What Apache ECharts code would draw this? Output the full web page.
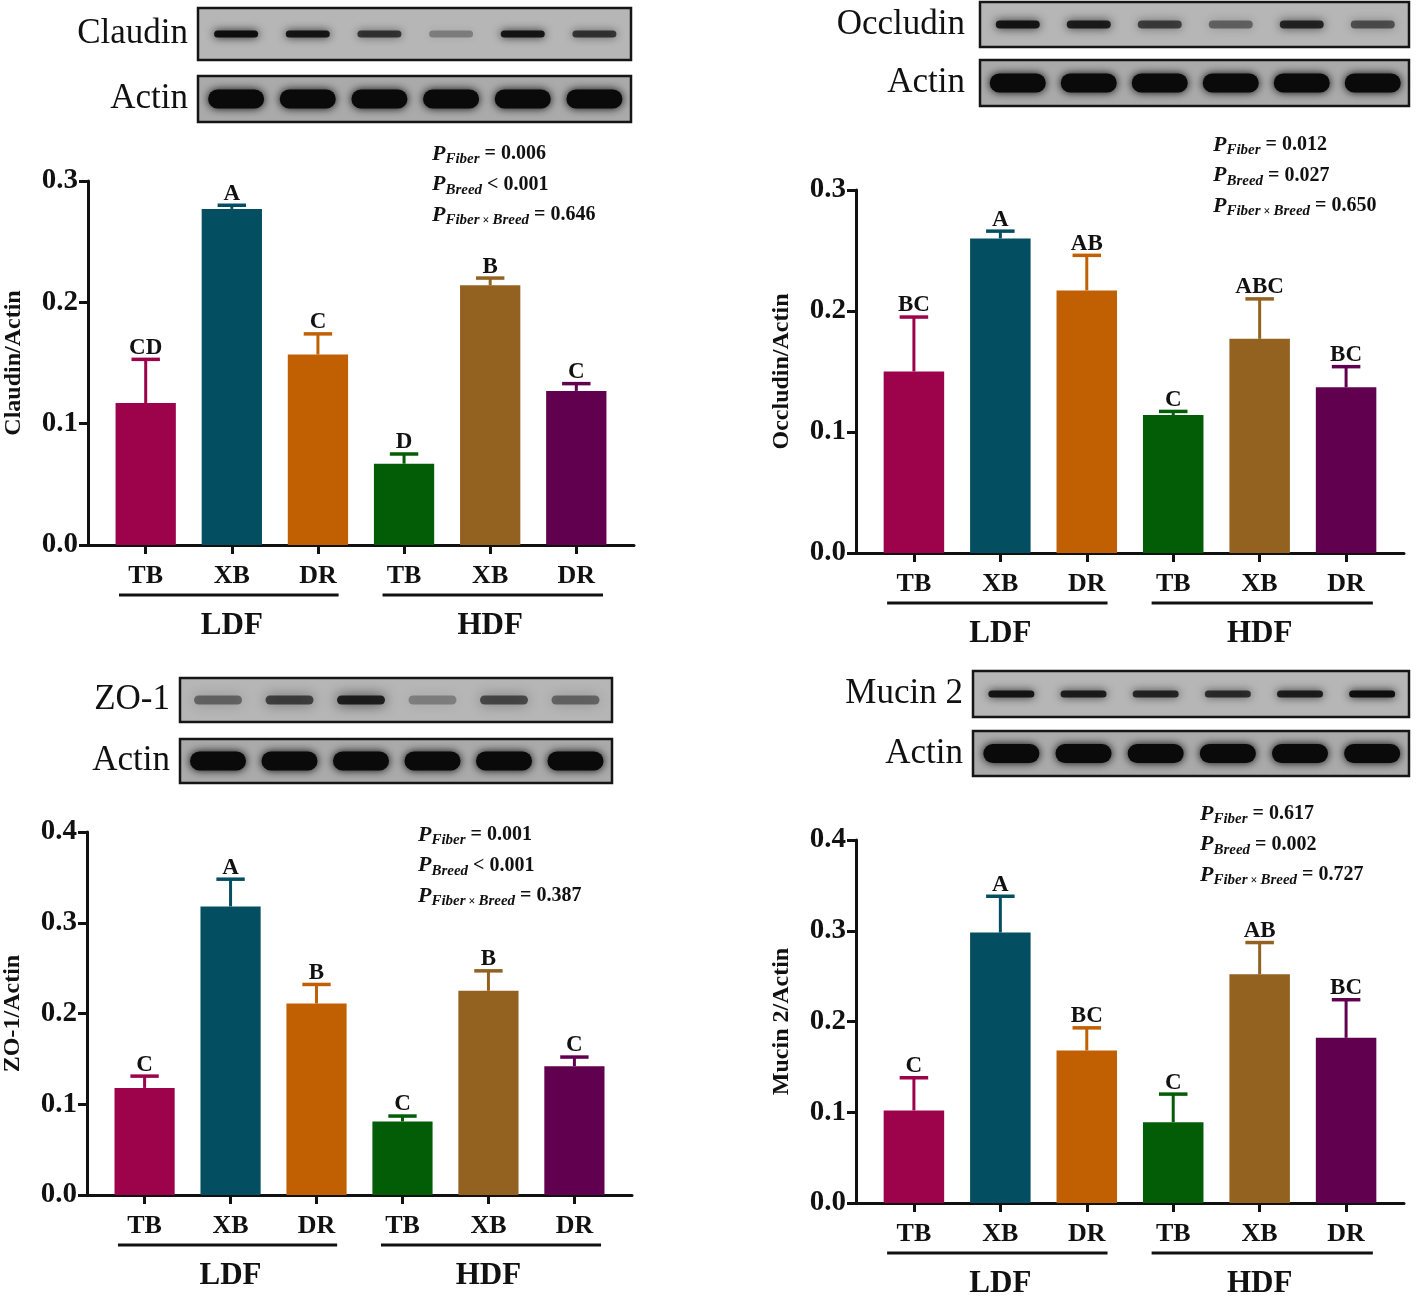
<!DOCTYPE html>
<html>
<head>
<meta charset="utf-8">
<script src="https://cdn.jsdelivr.net/npm/echarts@6/dist/echarts.min.js"></script>
<style>
    html, body { margin: 0; padding: 0; background: #fff; }
    #figure { width: 1417px; height: 1298px; }
</style>
</head>
<body>
<div id="figure"></div>
<script>
const SERIF = '"Liberation Serif", "Times New Roman", serif';

// Shared categories
const categories = ['TB', 'XB', 'DR', 'TB', 'XB', 'DR'];
const groupNames = ['LDF', 'HDF'];
const barColors = ['#9c034a', '#034e61', '#c06003', '#035c06', '#936221', '#61004f'];

// Claudin
const claudinMean = [0.117, 0.277, 0.157, 0.067, 0.214, 0.127];
const claudinSem = [0.036, 0.003, 0.017, 0.008, 0.006, 0.006];
const claudinLetters = ['CD', 'A', 'C', 'D', 'B', 'C'];
const claudinP = ['= 0.006', '< 0.001', '= 0.646'];
const claudinBands = [0.95, 0.9, 0.7, 0.3, 0.9, 0.7];

// Occludin
const occludinMean = [0.150, 0.260, 0.217, 0.114, 0.177, 0.137];
const occludinSem = [0.045, 0.006, 0.029, 0.003, 0.033, 0.017];
const occludinLetters = ['BC', 'A', 'AB', 'C', 'ABC', 'BC'];
const occludinP = ['= 0.012', '= 0.027', '= 0.650'];
const occludinBands = [0.9, 0.85, 0.65, 0.45, 0.8, 0.55];

// ZO-1
const zo1Mean = [0.118, 0.318, 0.211, 0.081, 0.225, 0.142];
const zo1Sem = [0.013, 0.030, 0.021, 0.006, 0.022, 0.010];
const zo1Letters = ['C', 'A', 'B', 'C', 'B', 'C'];
const zo1P = ['= 0.001', '< 0.001', '= 0.387'];
const zo1Bands = [0.45, 0.65, 0.85, 0.3, 0.6, 0.45];

// Mucin 2
const mucinMean = [0.102, 0.298, 0.168, 0.089, 0.252, 0.182];
const mucinSem = [0.036, 0.040, 0.025, 0.031, 0.035, 0.042];
const mucinLetters = ['C', 'A', 'BC', 'C', 'AB', 'BC'];
const mucinP = ['= 0.617', '= 0.002', '= 0.727'];
const mucinBands = [0.9, 0.85, 0.8, 0.75, 0.85, 0.95];

// Actin loading control
const actinBands = [1, 1, 1, 1, 1, 1];

// Panel layout
const panels = [
    {
        label: 'Claudin', yName: 'Claudin/Actin', yMax: 0.3,
        mean: claudinMean, sem: claudinSem, letters: claudinLetters, p: claudinP, bands: claudinBands,
        grid: { left: 88, top: 181, width: 546, height: 364 },
        blot: { x: 198, y: 8, w: 433, h: 52 }, actinBox: { x: 198, y: 76, w: 433, h: 46 },
        labelRight: 188, band: { w: 44, h: 7, blur: 9 }, pText: { x: 432, y: 155 }
    },
    {
        label: 'Occludin', yName: 'Occludin/Actin', yMax: 0.3,
        mean: occludinMean, sem: occludinSem, letters: occludinLetters, p: occludinP, bands: occludinBands,
        grid: { left: 856, top: 190, width: 548, height: 363 },
        blot: { x: 980, y: 2, w: 429, h: 45 }, actinBox: { x: 980, y: 60, w: 429, h: 46 },
        labelRight: 965, band: { w: 44, h: 8, blur: 10 }, pText: { x: 1213, y: 146 }
    },
    {
        label: 'ZO-1', yName: 'ZO-1/Actin', yMax: 0.4,
        mean: zo1Mean, sem: zo1Sem, letters: zo1Letters, p: zo1P, bands: zo1Bands,
        grid: { left: 85, top: 832, width: 547, height: 363 },
        blot: { x: 180, y: 678, w: 432, h: 44 }, actinBox: { x: 180, y: 739, w: 432, h: 44 },
        labelRight: 170, band: { w: 48, h: 9, blur: 13 }, pText: { x: 418, y: 836 }
    },
    {
        label: 'Mucin 2', yName: 'Mucin 2/Actin', yMax: 0.4,
        mean: mucinMean, sem: mucinSem, letters: mucinLetters, p: mucinP, bands: mucinBands,
        grid: { left: 856, top: 840, width: 548, height: 363 },
        blot: { x: 973, y: 671, w: 436, h: 46 }, actinBox: { x: 973, y: 731, w: 436, h: 45 },
        labelRight: 963, band: { w: 46, h: 7, blur: 9 }, pText: { x: 1200, y: 815 }
    }
];

const xPositions = categories.map((c, i) => i);
const groupSpans = [[-0.31, 2.24], [2.75, 5.31]];
const groupCenters = [1, 4];

const chart = echarts.init(document.getElementById('figure'), null, { renderer: 'canvas' });

/**
 * Bars with upper error bar and significance letter
 */
function makeRenderItem(panel) {
    return function (params, api) {
        const x = api.value(0);
        const mean = api.value(1);
        const sem = api.value(2);
        const base = api.coord([x, 0]);
        const top = api.coord([x, mean]);
        const errTop = api.coord([x, mean + sem]);
        const barW = api.size([0.7, 0])[0];
        const capW = api.size([0.33, 0])[0];
        const color = barColors[params.dataIndex];

        return {
            type: 'group',
            children: [
                {
                    type: 'line',
                    shape: { x1: top[0], y1: top[1], x2: errTop[0], y2: errTop[1] },
                    style: { stroke: color, lineWidth: 3 }
                },
                {
                    type: 'line',
                    shape: { x1: errTop[0] - capW / 2, y1: errTop[1], x2: errTop[0] + capW / 2, y2: errTop[1] },
                    style: { stroke: color, lineWidth: 3.5 }
                },
                {
                    type: 'rect',
                    shape: { x: base[0] - barW / 2, y: top[1], width: barW, height: base[1] - top[1] },
                    style: { fill: color }
                },
                {
                    type: 'text',
                    style: {
                        text: panel.letters[params.dataIndex],
                        x: errTop[0], y: errTop[1],
                        align: 'center', verticalAlign: 'bottom',
                        font: `bold 23px ${SERIF}`, fill: '#111'
                    }
                }
            ]
        };
    };
}

/**
 * Western blot strip drawn as graphic elements
 */
function blotElements(box, bands, bandW, bandH, blur, label, labelRight, bg) {
    const els = [{
        type: 'rect',
        shape: { x: box.x, y: box.y, width: box.w, height: box.h },
        style: { fill: bg, stroke: '#151515', lineWidth: 2.5 }
    }];
    bands.forEach((b, i) => {
        const cx = box.x + box.w * (0.088 + i * 0.1655);
        const cy = box.y + box.h / 2;
        els.push({
            type: 'rect',
            shape: { x: cx - bandW / 2, y: cy - bandH / 2, width: bandW, height: bandH, r: bandH / 2 },
            style: {
                fill: `rgba(10,10,10,${b})`,
                shadowBlur: blur,
                shadowColor: `rgba(10,10,10,${b})`
            }
        });
    });
    els.push({
        type: 'text',
        style: {
            text: label, x: labelRight, y: box.y + box.h / 2,
            align: 'right', verticalAlign: 'middle',
            font: `35px ${SERIF}`, fill: '#111'
        }
    });
    return els;
}

function pValueElements(pos, values) {
    const subs = ['{s|Fiber}', '{s|Breed}', '{s|Fiber}{x| × }{s|Breed}'];
    return values.map((v, i) => ({
        type: 'text',
        style: {
            text: `{p|P}${subs[i]}{v| ${v}}`,
            x: pos.x, y: pos.y + i * 30.5 - 12,
            fill: '#111',
            rich: {
                p: { font: `italic bold 22px ${SERIF}`, verticalAlign: 'top', fill: '#111' },
                s: { font: `italic bold 15px ${SERIF}`, padding: [9, 0, 0, 0], verticalAlign: 'top', fill: '#111' },
                x: { font: `bold 12px ${SERIF}`, padding: [11, 0, 0, 0], verticalAlign: 'top', fill: '#111' },
                v: { font: `bold 20px ${SERIF}`, padding: [1, 0, 0, 0], verticalAlign: 'top', fill: '#111' }
            }
        }
    }));
}

const axisColor = '#111';

const option = {
    backgroundColor: '#fff',
    animation: false,
    grid: panels.map(p => ({ ...p.grid })),
    xAxis: panels.map((p, i) => ({
        gridIndex: i,
        type: 'value',
        min: -0.67,
        max: 5.67,
        splitLine: { show: false },
        axisLine: { show: true, onZero: false, lineStyle: { color: axisColor, width: 3 } },
        axisTick: { show: true, customValues: xPositions, length: 9, lineStyle: { color: axisColor, width: 3 } },
        axisLabel: {
            customValues: xPositions,
            formatter: (v) => categories[Math.round(v)],
            margin: 18,
            color: axisColor,
            fontFamily: SERIF,
            fontWeight: 'bold',
            fontSize: 26
        }
    })),
    yAxis: panels.map((p, i) => ({
        gridIndex: i,
        type: 'value',
        min: 0,
        max: p.yMax,
        interval: 0.1,
        splitLine: { show: false },
        axisLine: { show: true, onZero: false, lineStyle: { color: axisColor, width: 3 } },
        axisTick: { show: true, length: 9, lineStyle: { color: axisColor, width: 3 } },
        axisLabel: {
            formatter: (v) => v.toFixed(1),
            margin: 10,
            color: axisColor,
            fontFamily: SERIF,
            fontWeight: 'bold',
            fontSize: 29
        },
        name: p.yName,
        nameLocation: 'middle',
        nameGap: 62,
        nameTextStyle: { color: axisColor, fontFamily: SERIF, fontWeight: 'bold', fontSize: 24 }
    })),
    series: panels.map((p, i) => ({
        type: 'custom',
        xAxisIndex: i,
        yAxisIndex: i,
        clip: false,
        renderItem: makeRenderItem(p),
        encode: { x: 0, y: 1 },
        data: p.mean.map((m, j) => [j, m, p.sem[j]])
    }))
};

chart.setOption(option);

// Overlay: blots, P values, group underlines and group names
const overlay = [];
panels.forEach((p, i) => {
    overlay.push(...blotElements(p.blot, p.bands, p.band.w, p.band.h, p.band.blur, p.label, p.labelRight, '#b6b6b6'));
    overlay.push(...blotElements(p.actinBox, actinBands, 56, 19, 9, 'Actin', p.labelRight, '#aaaaaa'));
    overlay.push(...pValueElements(p.pText, p.p));

    groupSpans.forEach((span, g) => {
        const a = chart.convertToPixel({ gridIndex: i }, [span[0], 0]);
        const b = chart.convertToPixel({ gridIndex: i }, [span[1], 0]);
        overlay.push({
            type: 'line',
            shape: { x1: a[0], y1: a[1] + 50, x2: b[0], y2: b[1] + 50 },
            style: { stroke: '#111', lineWidth: 3 }
        });
        const c = chart.convertToPixel({ gridIndex: i }, [groupCenters[g], 0]);
        overlay.push({
            type: 'text',
            style: {
                text: groupNames[g], x: c[0], y: c[1] + 81,
                align: 'center', verticalAlign: 'middle',
                font: `bold 31px ${SERIF}`, fill: '#111'
            }
        });
    });
});

chart.setOption({ graphic: { elements: overlay } });

window.addEventListener('resize', () => chart.resize());
</script>
</body>
</html>
